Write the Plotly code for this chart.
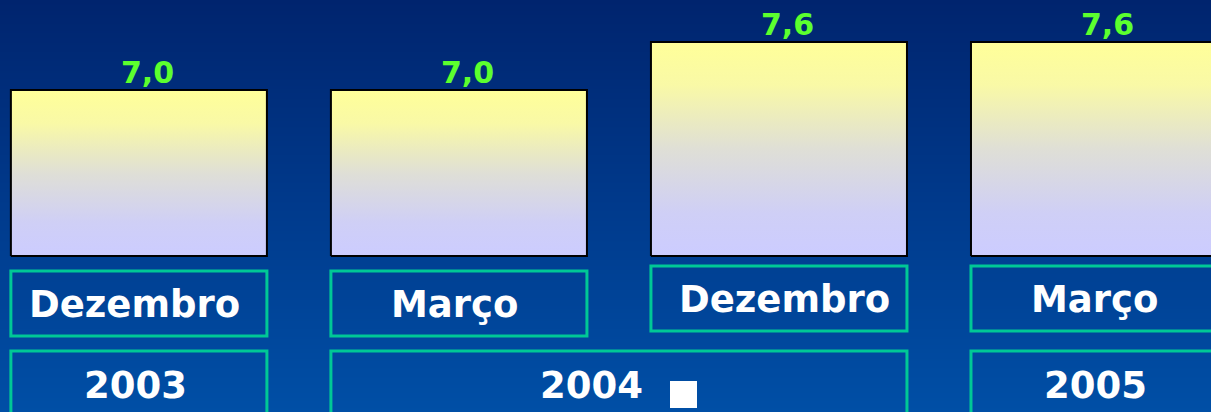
import plotly.graph_objects as go

# ---- data ----
months = ["Dezembro", "Março", "Dezembro", "Março"]
values = [7.0, 7.0, 7.6, 7.6]
years = ["2003", "2004", "2005"]
year_first = [0, 1, 3]   # first bar index covered by each year
year_last = [0, 2, 3]    # last bar index covered by each year

# ---- layout constants ----
W, H = 1211, 412
BAR_W = 0.8
X_RANGE = [-0.434, 3.35]
Y_RANGE = [2.975, 8.125]
BASE = 4.925
FONT = "DejaVu Sans, Verdana, sans-serif"
GREEN_LINE = "#00C896"
LABEL_GREEN = "#5CFF2E"

fig = go.Figure()

# background gradient
fig.add_trace(go.Heatmap(
    x=[-2, 5], y=[0, 10], z=[[0, 0], [10, 10]],
    zmin=Y_RANGE[0], zmax=Y_RANGE[1], zsmooth="best",
    colorscale=[[0, "#004FA6"], [0.5, "#003A8C"], [1, "#00246E"]],
    showscale=False, hoverinfo="skip"))

# bars (gradient filled polygons built from the values)
bar_scale = [[0, "#CCCCFF"], [0.2, "#CFCFF6"], [0.5, "#DFDFD6"],
             [0.8, "#F9F9A6"], [1, "#FFFF99"]]
for i, v in enumerate(values):
    x0, x1 = i - BAR_W / 2, i + BAR_W / 2
    fig.add_trace(go.Scatter(
        x=[x0, x1, x1, x0, x0], y=[BASE, BASE, v, v, BASE],
        mode="lines", fill="toself",
        fillgradient=dict(type="vertical", colorscale=bar_scale),
        line=dict(color="black", width=2),
        hoverinfo="skip", showlegend=False))
    fig.add_annotation(
        x=i, y=v, xref="x", yref="y", text=f"{v:.1f}".replace(".", ","),
        showarrow=False, yanchor="bottom", xshift=9, yshift=-2,
        font=dict(family=FONT, size=30, color=LABEL_GREEN, weight="bold"))

# month boxes (pixel y axis y2)
month_top = [271, 271, 266, 266]
month_h = 65
month_dx = [-4, -4, 6, -4]
for i, m in enumerate(months):
    x0, x1 = i - BAR_W / 2, i + BAR_W / 2
    fig.add_shape(type="rect", xref="x", yref="y2", x0=x0, x1=x1,
                  y0=month_top[i], y1=month_top[i] + month_h,
                  line=dict(color=GREEN_LINE, width=3), fillcolor="rgba(0,0,0,0)")
    fig.add_annotation(x=i, y=month_top[i] + month_h / 2 + 0.5, xref="x", yref="y2",
                       text=m, showarrow=False, xshift=month_dx[i],
                       font=dict(family=FONT, size=37, color="white", weight="bold"))

# year boxes
year_top = 351
year_dx = [-3, -27, -3]
for j, yv in enumerate(years):
    x0 = year_first[j] - BAR_W / 2
    x1 = year_last[j] + BAR_W / 2
    fig.add_shape(type="rect", xref="x", yref="y2", x0=x0, x1=x1,
                  y0=year_top, y1=year_top + 80,
                  line=dict(color=GREEN_LINE, width=3), fillcolor="rgba(0,0,0,0)")
    fig.add_annotation(x=(year_first[j] + year_last[j]) / 2, y=385, xref="x", yref="y2",
                       text=yv, showarrow=False, xshift=year_dx[j],
                       font=dict(family=FONT, size=37, color="white", weight="bold"))

# small white square next to 2004
fig.add_shape(type="rect", xref="paper", yref="y2",
              x0=670 / W, x1=697 / W, y0=381, y1=408,
              line=dict(width=0), fillcolor="white")

fig.update_layout(
    width=W, height=H, margin=dict(l=0, r=0, t=0, b=0),
    paper_bgcolor="#003A8C", plot_bgcolor="rgba(0,0,0,0)",
    showlegend=False,
    xaxis=dict(range=X_RANGE, visible=False, fixedrange=True),
    yaxis=dict(range=Y_RANGE, visible=False, fixedrange=True),
    yaxis2=dict(range=[H, 0], overlaying="y", visible=False, fixedrange=True),
)

fig.write_html(
    "out.html",
    config={"displayModeBar": False},
    post_script="document.body.style.margin='0';document.body.style.overflow='hidden';",
)
